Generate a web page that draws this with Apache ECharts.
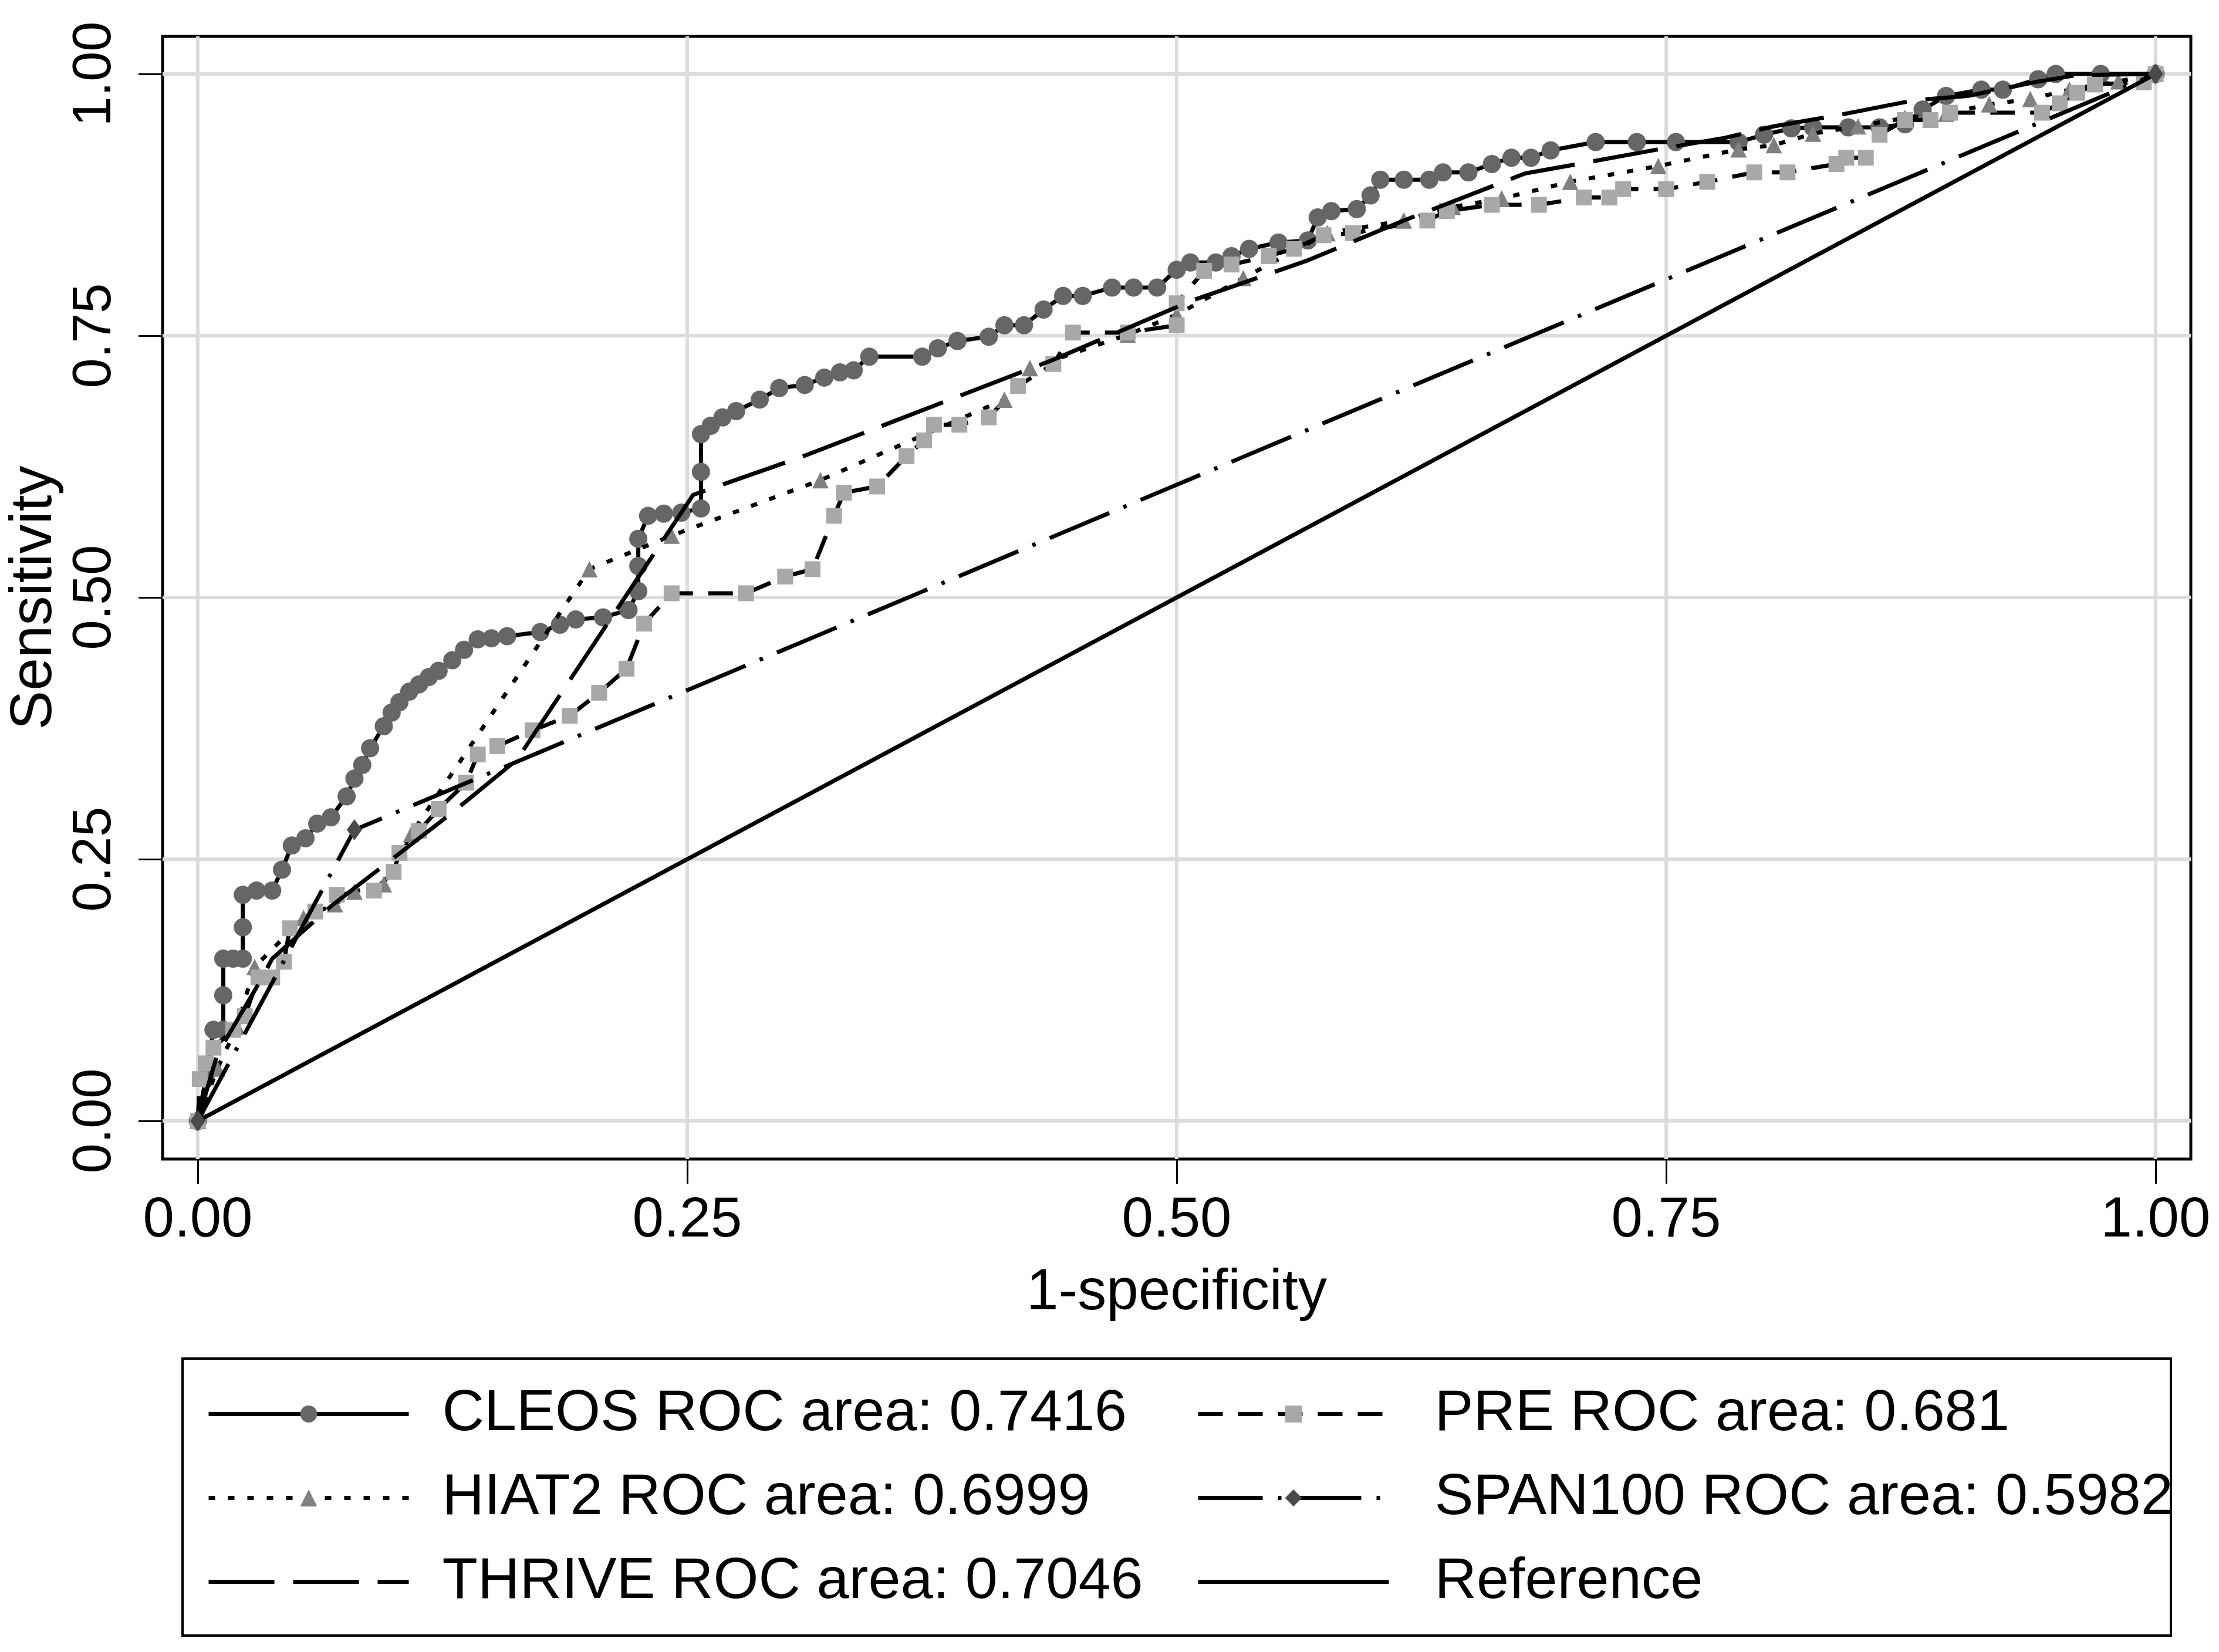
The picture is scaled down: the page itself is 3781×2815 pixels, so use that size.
<!DOCTYPE html>
<html><head><meta charset="utf-8">
<script src="https://cdn.jsdelivr.net/npm/echarts@6/dist/echarts.min.js"></script>
<style>html,body{margin:0;padding:0;background:#fff}#c{width:3781px;height:2815px}</style>
</head><body><div id="c"></div>
<script>
const tickValues = [0, 0.25, 0.5, 0.75, 1];
const seriesNames = ['CLEOS ROC area: 0.7416','PRE ROC area: 0.681','HIAT2 ROC area: 0.6999','SPAN100 ROC area: 0.5982','THRIVE ROC area: 0.7046','Reference'];
const xTitle = '1-specificity';
const yTitle = 'Sensitivity';

const cleos = [[0,0],[0.004,0.04],[0.008,0.087],[0.013,0.087],[0.013,0.12],[0.013,0.155],[0.018,0.155],[0.023,0.155],[0.023,0.185],[0.023,0.216],[0.03,0.22],[0.038,0.22],[0.043,0.24],[0.048,0.263],[0.055,0.27],[0.061,0.284],[0.068,0.29],[0.076,0.31],[0.08,0.327],[0.084,0.34],[0.088,0.356],[0.095,0.377],[0.099,0.39],[0.103,0.40],[0.108,0.41],[0.113,0.417],[0.118,0.424],[0.123,0.43],[0.13,0.44],[0.136,0.45],[0.143,0.46],[0.15,0.461],[0.158,0.463],[0.175,0.467],[0.185,0.474],[0.193,0.479],[0.207,0.481],[0.22,0.488],[0.225,0.506],[0.225,0.53],[0.225,0.556],[0.23,0.578],[0.238,0.58],[0.247,0.581],[0.257,0.585],[0.257,0.62],[0.257,0.656],[0.262,0.664],[0.268,0.672],[0.275,0.678],[0.287,0.689],[0.297,0.70],[0.31,0.703],[0.32,0.71],[0.328,0.715],[0.335,0.717],[0.343,0.73],[0.37,0.73],[0.378,0.738],[0.388,0.745],[0.404,0.749],[0.412,0.76],[0.422,0.76],[0.432,0.775],[0.442,0.788],[0.452,0.788],[0.467,0.796],[0.478,0.796],[0.49,0.796],[0.50,0.813],[0.507,0.82],[0.52,0.82],[0.528,0.826],[0.537,0.833],[0.552,0.839],[0.567,0.841],[0.572,0.863],[0.579,0.869],[0.592,0.871],[0.599,0.884],[0.604,0.899],[0.616,0.899],[0.629,0.899],[0.636,0.906],[0.649,0.906],[0.661,0.914],[0.671,0.92],[0.681,0.92],[0.691,0.927],[0.714,0.935],[0.735,0.935],[0.755,0.935],[0.787,0.935],[0.8,0.942],[0.814,0.948],[0.825,0.949],[0.843,0.949],[0.859,0.949],[0.872,0.952],[0.881,0.966],[0.893,0.979],[0.911,0.985],[0.922,0.985],[0.94,0.995],[0.949,1.0],[0.972,1.0],[1,1]];

const pre = [[0,0],[0.001,0.04],[0.004,0.055],[0.008,0.07],[0.018,0.087],[0.024,0.1],[0.031,0.137],[0.038,0.137],[0.044,0.152],[0.047,0.184],[0.06,0.2],[0.071,0.216],[0.09,0.22],[0.1,0.238],[0.103,0.256],[0.113,0.277],[0.123,0.298],[0.137,0.323],[0.143,0.35],[0.153,0.358],[0.171,0.373],[0.19,0.387],[0.205,0.409],[0.219,0.432],[0.228,0.475],[0.242,0.504],[0.28,0.504],[0.3,0.52],[0.314,0.527],[0.325,0.578],[0.33,0.6],[0.347,0.606],[0.362,0.635],[0.371,0.65],[0.376,0.665],[0.389,0.665],[0.404,0.672],[0.419,0.702],[0.437,0.723],[0.447,0.753],[0.475,0.753],[0.5,0.76],[0.5,0.781],[0.514,0.812],[0.528,0.818],[0.547,0.826],[0.56,0.833],[0.575,0.846],[0.59,0.848],[0.628,0.86],[0.638,0.869],[0.661,0.875],[0.685,0.875],[0.708,0.882],[0.721,0.882],[0.728,0.89],[0.75,0.89],[0.771,0.897],[0.795,0.906],[0.812,0.906],[0.837,0.914],[0.842,0.92],[0.852,0.92],[0.859,0.942],[0.872,0.956],[0.885,0.956],[0.895,0.963],[0.942,0.963],[0.951,0.972],[0.96,0.982],[0.969,0.99],[0.994,0.992],[1,1]];

const hiat2 = [[0,0],[0.01,0.05],[0.02,0.09],[0.029,0.147],[0.054,0.194],[0.07,0.207],[0.08,0.219],[0.095,0.226],[0.109,0.274],[0.2,0.527],[0.242,0.559],[0.318,0.612],[0.412,0.689],[0.425,0.719],[0.475,0.751],[0.5,0.77],[0.534,0.805],[0.577,0.848],[0.616,0.86],[0.641,0.873],[0.666,0.881],[0.701,0.897],[0.746,0.912],[0.787,0.928],[0.805,0.932],[0.825,0.943],[0.848,0.95],[0.872,0.958],[0.893,0.962],[0.915,0.971],[0.936,0.976],[0.956,0.985],[0.981,0.993],[1,1]];

const span100 = [[0,0],[0.08,0.278],[1,1]];

const thrive = [[0,0],[0.01,0.064],[0.032,0.134],[0.038,0.155],[0.068,0.205],[0.095,0.244],[0.129,0.293],[0.163,0.345],[0.253,0.598],[0.308,0.634],[0.437,0.727],[0.507,0.783],[0.567,0.822],[0.616,0.86],[0.678,0.905],[0.708,0.915],[0.746,0.928],[0.78,0.939],[0.805,0.95],[0.836,0.96],[0.877,0.975],[0.904,0.979],[0.938,0.992],[0.96,0.999],[1,1]];

const reference = [[0,0],[1,1]];

const FONT = 'Liberation Sans';
const chart = echarts.init(document.getElementById('c'), null, {renderer:'canvas'});

const gridLines = tickValues.map(v => ({xAxis: v})).concat(tickValues.map(v => ({yAxis: v})));

const legendCommon = {
  orient: 'vertical', padding: 0, itemHeight: 36, itemGap: 44, selectedMode: false,
  lineStyle: {width: 7, color: '#000'}
};
const noSym = {opacity: 0};

chart.setOption({
  animation: false,
  backgroundColor: '#fff',
  grid: {left: 277, right: 48, top: 62, bottom: 840, show: true, borderColor: '#000', borderWidth: 5},
  xAxis: {
    type: 'value', min: -0.018, max: 1.018,
    axisLine: {show: false, onZero: false},
    splitLine: {show: false},
    axisTick: {show: true, customValues: tickValues, length: 42, lineStyle: {color: '#000', width: 3}},
    axisLabel: {customValues: tickValues, formatter: v => v.toFixed(2), margin: 58, fontSize: 96, color: '#000', fontFamily: FONT},
    name: xTitle, nameLocation: 'middle', nameGap: 180,
    nameTextStyle: {fontSize: 98, color: '#000', fontFamily: FONT}
  },
  yAxis: {
    type: 'value', min: -0.0364, max: 1.0359,
    axisLine: {show: false, onZero: false},
    splitLine: {show: false},
    axisTick: {show: true, customValues: tickValues, length: 41, lineStyle: {color: '#000', width: 3}},
    axisLabel: {customValues: tickValues, formatter: v => v.toFixed(2), rotate: 90, margin: 68, fontSize: 92, color: '#000', fontFamily: FONT},
    name: yTitle, nameLocation: 'middle', nameGap: 140,
    nameTextStyle: {fontSize: 100, color: '#000', fontFamily: FONT}
  },
  legend: [
    Object.assign({}, legendCommon, {
      data: [seriesNames[0], seriesNames[2], {name: seriesNames[4], itemStyle: noSym}],
      left: 352, top: 2360, itemWidth: 341,
      textStyle: {fontFamily: FONT, fontSize: 99, color: '#000', padding: [0,0,0,52]}}),
    Object.assign({}, legendCommon, {
      data: [seriesNames[1], seriesNames[3], {name: seriesNames[5], itemStyle: noSym}],
      left: 2038, top: 2360, itemWidth: 325,
      textStyle: {fontFamily: FONT, fontSize: 99, color: '#000', padding: [0,0,0,73]}})
  ],
  graphic: [{type: 'rect', shape: {x: 311, y: 2315, width: 3388, height: 472}, style: {fill: 'none', stroke: '#000', lineWidth: 4}}],
  series: [
    {name: '_grid', type: 'line', data: [], z: 1, silent: true,
     markLine: {silent: true, z: 1, symbol: ['none','none'], label: {show: false}, animation: false,
       lineStyle: {color: '#dcdcdc', width: 6, type: 'solid'}, emphasis: {disabled: true}, data: gridLines}},
    {name: seriesNames[0], type: 'line', data: cleos, symbol: 'circle', symbolSize: 31, z: 3,
     itemStyle: {color: '#666666'}, lineStyle: {color: '#000', width: 7, type: 'solid'}},
    {name: seriesNames[2], type: 'line', data: hiat2, symbol: 'triangle', symbolSize: 28, z: 4,
     itemStyle: {color: '#808080'}, lineStyle: {color: '#000', width: 7, type: [11, 22]}},
    {name: seriesNames[4], type: 'line', data: thrive, symbol: 'none', z: 5,
     itemStyle: {color: 'rgba(0,0,0,0)'},
     lineStyle: {color: '#000', width: 7, type: [112, 32]}},
    {name: seriesNames[1], type: 'line', data: pre, symbol: 'rect', symbolSize: 27, z: 4,
     itemStyle: {color: '#a8a8a8'}, lineStyle: {color: '#000', width: 7, type: [42, 26]}},
    {name: seriesNames[3], type: 'line', data: span100, symbol: 'diamond', symbolSize: [26, 36], z: 5,
     itemStyle: {color: '#4a4a4a'}, lineStyle: {color: '#000', width: 7, type: [110, 26, 6, 26]}},
    {name: seriesNames[5], type: 'line', data: reference, symbol: 'none', z: 5,
     itemStyle: {color: 'rgba(0,0,0,0)'},
     lineStyle: {color: '#000', width: 7, type: 'solid'}}
  ]
});
</script></body></html>
